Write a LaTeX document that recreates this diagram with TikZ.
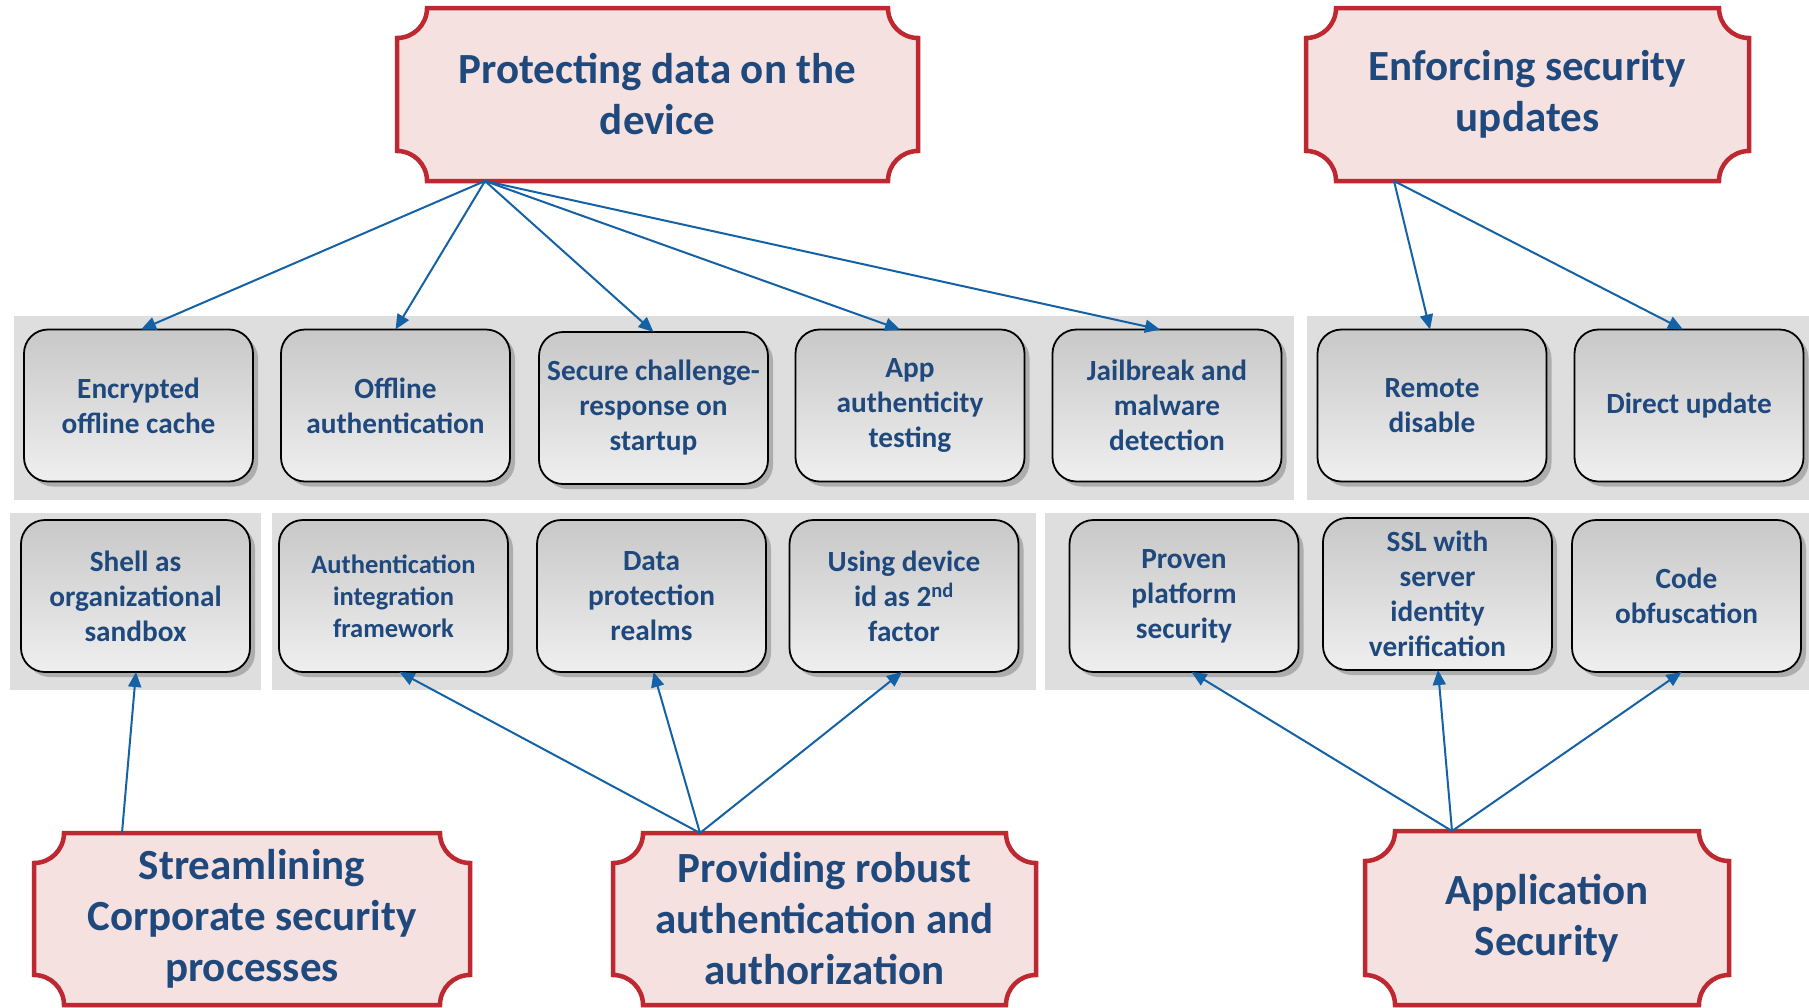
\documentclass[tikz,border=0pt]{standalone}
\usepackage{fontspec}
\setmainfont{Carlito}
\usetikzlibrary{shadows,calc,arrows.meta}
\definecolor{txtblue}{RGB}{31,73,125}
\definecolor{plqfill}{RGB}{244,225,224}
\definecolor{plqline}{RGB}{190,40,48}
\definecolor{boxtop}{RGB}{200,200,200}
\definecolor{boxbot}{RGB}{239,239,239}
\definecolor{bandgray}{RGB}{222,222,222}
\definecolor{arrowblue}{RGB}{20,98,165}
\pgfdeclarelayer{back}
\pgfsetlayers{back,main}
\newcommand\plaque[1]{%
 \fill[plqfill] ([xshift=30pt]#1.north west) -- ([xshift=-30pt]#1.north east)
 .. controls ([xshift=-30pt,yshift=-16.6pt]#1.north east) and ([xshift=-16.6pt,yshift=-30pt]#1.north east) .. ([yshift=-30pt]#1.north east)
 -- ([yshift=30pt]#1.south east)
 .. controls ([xshift=-16.6pt,yshift=30pt]#1.south east) and ([xshift=-30pt,yshift=16.6pt]#1.south east) .. ([xshift=-30pt]#1.south east)
 -- ([xshift=30pt]#1.south west)
 .. controls ([xshift=30pt,yshift=16.6pt]#1.south west) and ([xshift=16.6pt,yshift=30pt]#1.south west) .. ([yshift=30pt]#1.south west)
 -- ([yshift=-30pt]#1.north west)
 .. controls ([xshift=16.6pt,yshift=-30pt]#1.north west) and ([xshift=30pt,yshift=-16.6pt]#1.north west) .. cycle;
 \draw[plqline,line width=4.5pt,line join=miter] ([xshift=30pt]#1.north west) -- ([xshift=-30pt]#1.north east)
 .. controls ([xshift=-30pt,yshift=-16.6pt]#1.north east) and ([xshift=-16.6pt,yshift=-30pt]#1.north east) .. ([yshift=-30pt]#1.north east)
 -- ([yshift=30pt]#1.south east)
 .. controls ([xshift=-16.6pt,yshift=30pt]#1.south east) and ([xshift=-30pt,yshift=16.6pt]#1.south east) .. ([xshift=-30pt]#1.south east)
 -- ([xshift=30pt]#1.south west)
 .. controls ([xshift=30pt,yshift=16.6pt]#1.south west) and ([xshift=16.6pt,yshift=30pt]#1.south west) .. ([yshift=30pt]#1.south west)
 -- ([yshift=-30pt]#1.north west)
 .. controls ([xshift=16.6pt,yshift=-30pt]#1.north west) and ([xshift=30pt,yshift=-16.6pt]#1.north west) .. cycle;
}
\tikzset{
 plaquebox/.style={draw=none,outer sep=0pt,inner sep=0pt,align=center,text=txtblue,
   font=\fontsize{43}{51}\selectfont\bfseries},
 featbox/.style={rounded corners=24pt,draw=black,line width=1.8pt,top color=boxtop,bottom color=boxbot,
   minimum width=229pt,minimum height=152pt,align=center,text=txtblue,outer sep=0pt,
   font=\fontsize{29.3}{35}\selectfont\bfseries,
   drop shadow={shadow xshift=5pt,shadow yshift=-5pt,opacity=0.22,fill=black}},
 smallfeat/.style={featbox,font=\fontsize{26.5}{32}\selectfont\bfseries},
 conn/.style={draw=arrowblue,line width=2pt,-{Triangle[length=15pt,width=13pt]}},
 band/.style={fill=bandgray}
}
\begin{document}
\begin{tikzpicture}[x=1pt,y=-1pt]
\useasboundingbox (0,0) rectangle (1809,1007);
% bands
\fill[band] (14,316) rectangle (1294,500);
\fill[band] (1307,316) rectangle (1809,500);
\fill[band] (10,513) rectangle (261,690);
\fill[band] (272,513) rectangle (1036,690);
\fill[band] (1045,513) rectangle (1809,690);
% banners
\node[plaquebox,minimum width=521pt,minimum height=173pt] (b1) at (657.5,94.5) {Protecting data on the\\device};
\node[plaquebox,minimum width=443pt,minimum height=173pt] (b2) at (1527.5,94.5) {Enforcing security\\updates};
\node[plaquebox,minimum width=436pt,minimum height=172pt] (b3) at (252,919) {Streamlining\\Corporate security\\processes};
\node[plaquebox,minimum width=423pt,minimum height=172pt] (b4) at (824.5,919) {Providing robust\\authentication and\\authorization};
\node[plaquebox,minimum width=364pt,minimum height=174pt] (b5) at (1547,918) {Application\\Security};
\begin{pgfonlayer}{back}
\plaque{b1}\plaque{b2}\plaque{b3}\plaque{b4}\plaque{b5}
\end{pgfonlayer}
% row 1
\node[featbox] (enc) at (138.5,405.5) {Encrypted\\offline cache};
\node[featbox] (off) at (395.5,405.5) {Offline\\authentication};
\node[featbox] (sec) at (653.5,408) {Secure challenge-\\response on\\startup};
\node[featbox] (app) at (910,405.5) {App\\authenticity\\testing};
\node[featbox] (jail) at (1167,405.5) {Jailbreak and\\malware\\detection};
\node[featbox] (rem) at (1432,405.5) {Remote\\disable};
\node[featbox] (dir) at (1689,405.5) {Direct update};
% row 2
\node[featbox] (shell) at (135.5,596) {Shell as\\organizational\\sandbox};
\node[smallfeat] (auth) at (393.5,596) {Authentication\\integration\\framework};
\node[featbox] (data) at (651.5,596) {Data\\protection\\realms};
\node[featbox] (using) at (904,596) {Using device\\id as 2\textsuperscript{nd}\\factor};
\node[featbox] (proven) at (1184,596) {Proven\\platform\\security};
\node[featbox] (ssl) at (1437.5,594) {SSL with\\server\\identity\\verification};
\node[featbox] (code) at (1686.5,596) {Code\\obfuscation};
% connector origins
\coordinate (b1a) at ([xshift=-172.5pt]b1.south);
\coordinate (b2a) at ([xshift=-133.5pt]b2.south);
\coordinate (b3a) at ([xshift=-130pt]b3.north);
\coordinate (b4a) at ([xshift=-124.5pt]b4.north);
\coordinate (b5a) at ([xshift=-95pt]b5.north);
% connectors
\draw[conn] (b1a) -- ([xshift=2.5pt]enc.north);
\draw[conn] (b1a) -- (off.north);
\draw[conn] (b1a) -- (sec.north);
\draw[conn] (b1a) -- ([xshift=-10pt]app.north);
\draw[conn] (b1a) -- ([xshift=-7pt]jail.north);
\draw[conn] (b2a) -- ([xshift=-2pt]rem.north);
\draw[conn] (b2a) -- ([xshift=-6pt]dir.north);
\draw[conn] (b3a) -- ([xshift=0.5pt]shell.south);
\draw[conn] (b4a) -- ([xshift=6pt]auth.south);
\draw[conn] (b4a) -- ([xshift=2pt]data.south);
\draw[conn] (b4a) -- ([xshift=-2pt]using.south);
\draw[conn] (b5a) -- ([xshift=7.5pt]proven.south);
\draw[conn] (b5a) -- ([xshift=0.5pt]ssl.south);
\draw[conn] (b5a) -- ([xshift=-5pt]code.south);
\end{tikzpicture}
\end{document}
